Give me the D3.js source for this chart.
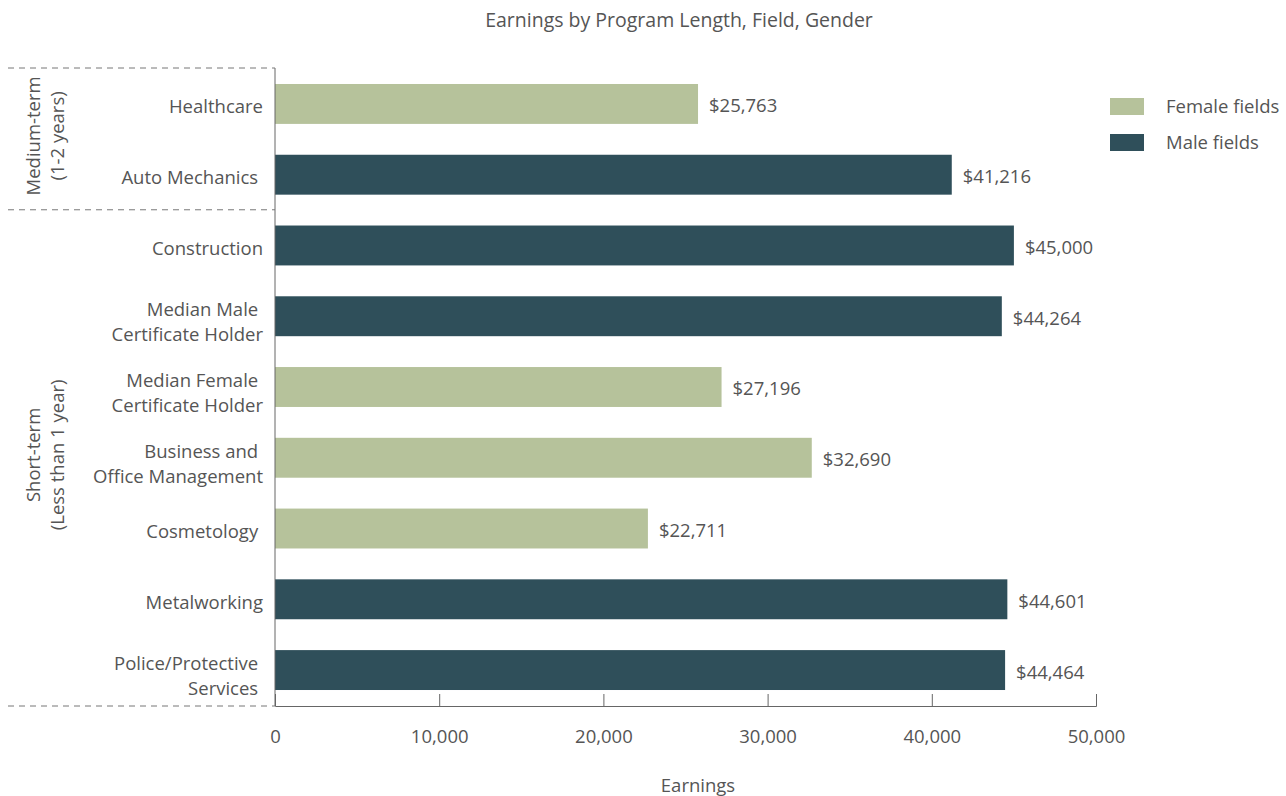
<!DOCTYPE html>
<meta charset="utf-8">
<title>Earnings by Program Length, Field, Gender</title>
<style type="text/css">
	body { margin: 0; background: #fff; }
	text { font-family: "Open Sans", "Noto Sans", sans-serif; fill: #555; }
</style>
<body>
<script src="https://d3js.org/d3.v7.min.js"></script>
<script>

// Data
var fields = ["Healthcare", "Auto Mechanics", "Construction", "Median Male Certificate Holder",
	"Median Female Certificate Holder", "Business and Office Management", "Cosmetology",
	"Metalworking", "Police/Protective Services"];
var labelLines = [["Healthcare"], ["Auto Mechanics "], ["Construction"], ["Median Male ", "Certificate Holder"],
	["Median Female ", "Certificate Holder"], ["Business and ", "Office Management"], ["Cosmetology "],
	["Metalworking"], ["Police/Protective ", "Services "]];
var earnings = [25763, 41216, 45000, 44264, 27196, 32690, 22711, 44601, 44464];
var gender = ["Female", "Male", "Male", "Male", "Female", "Female", "Female", "Male", "Male"];
var xTicks = [0, 10000, 20000, 30000, 40000, 50000];
var groups = [{name: ["Medium-term", "(1-2 years)"], from: 0, to: 2},
	{name: ["Short-term", "(Less than 1 year)"], from: 2, to: 9}];
var legendItems = [["Female", "Female fields"], ["Male", "Male fields"]];

var colors = {Female: "#b6c29b", Male: "#2f4f5a"};

var plotLeft = 275, plotRight = 1096, plotTop = 68, plotBottom = 706;
var fs = "18.5px";

var svg = d3.select("body").append("svg")
	.attr("width", 1286)
	.attr("height", 796);

var x = d3.scaleLinear().domain([0, 50000]).range([plotLeft, plotRight]);
var y = d3.scaleBand().domain(fields).range([plotTop, plotBottom]).paddingInner(0.436).paddingOuter(0.226);

// title
svg.append("text").attr("x", 679).attr("y", 27).attr("text-anchor", "middle")
	.style("font-size", "19.5px").text("Earnings by Program Length, Field, Gender");

// bars
svg.selectAll(".bar").data(fields).enter().append("rect")
	.attr("class", "bar")
	.attr("x", x(0))
	.attr("y", function(d) { return y(d); })
	.attr("width", function(d, i) { return x(earnings[i]) - x(0); })
	.attr("height", y.bandwidth())
	.attr("fill", function(d, i) { return colors[gender[i]]; });

// value labels
svg.selectAll(".val").data(fields).enter().append("text")
	.attr("class", "val")
	.attr("x", function(d, i) { return x(earnings[i]) + 11; })
	.attr("y", function(d) { return y(d) + y.bandwidth() / 2 + 2; })
	.attr("dy", "0.35em")
	.style("font-size", fs)
	.text(function(d, i) { return "$" + d3.format(",")(earnings[i]); });

// category labels
var cat = svg.selectAll(".cat").data(fields).enter().append("text")
	.attr("class", "cat")
	.attr("text-anchor", "end")
	.style("font-size", fs)
	.style("white-space", "pre");
cat.each(function(d, i) {
	var lines = labelLines[i];
	var cy = y(d) + y.bandwidth() / 2 + (lines.length > 1 ? 6 : 3);
	var t = d3.select(this);
	lines.forEach(function(l, j) {
		t.append("tspan")
			.attr("x", 263)
			.attr("y", cy + (j - (lines.length - 1) / 2) * 25)
			.attr("dy", "0.35em")
			.text(l);
	});
});

// x axis
var xAxis = d3.axisBottom(x).tickValues(xTicks).tickSizeInner(-12).tickSizeOuter(-12)
	.tickPadding(24).tickFormat(function(d) { return d === 0 ? "0" : d3.format(",")(d); });
var gx = svg.append("g").attr("transform", "translate(0," + plotBottom + ")").call(xAxis);
gx.select(".domain").attr("stroke", "#666");
gx.selectAll(".tick line").attr("stroke", "#666");
gx.selectAll(".tick text").style("font-size", fs).attr("fill", "#555");

// y axis line
svg.append("line").attr("x1", plotLeft).attr("x2", plotLeft).attr("y1", plotTop).attr("y2", plotBottom)
	.attr("stroke", "#666");

// group separators and labels
var rowH = (plotBottom - plotTop) / fields.length;
var sepY = [plotTop, plotTop + rowH * 2, plotBottom];
svg.selectAll(".sep").data(sepY).enter().append("line")
	.attr("class", "sep")
	.attr("x1", 8).attr("x2", plotLeft)
	.attr("y1", function(d) { return d; }).attr("y2", function(d) { return d; })
	.attr("stroke", "#777").attr("stroke-dasharray", "6,5");

groups.forEach(function(g) {
	var cy = plotTop + rowH * (g.from + g.to) / 2 - 3;
	var t = svg.append("text").attr("transform", "translate(34," + cy + ") rotate(-90)")
		.attr("text-anchor", "middle").style("font-size", fs);
	g.name.forEach(function(n, j) {
		t.append("tspan").attr("x", 0).attr("y", j * 24 + 6).text(n);
	});
});

// legend
var lg = svg.selectAll(".lg").data(legendItems).enter().append("g")
	.attr("transform", function(d, i) { return "translate(1110," + (98 + i * 36) + ")"; });
lg.append("rect").attr("width", 34).attr("height", 17).attr("fill", function(d) { return colors[d[0]]; });
lg.append("text").attr("x", 56).attr("y", 9).attr("dy", "0.35em").style("font-size", fs)
	.text(function(d) { return d[1]; });

// x axis title
svg.append("text").attr("x", 698).attr("y", 792).attr("text-anchor", "middle")
	.style("font-size", fs).text("Earnings");

</script>
</body>
